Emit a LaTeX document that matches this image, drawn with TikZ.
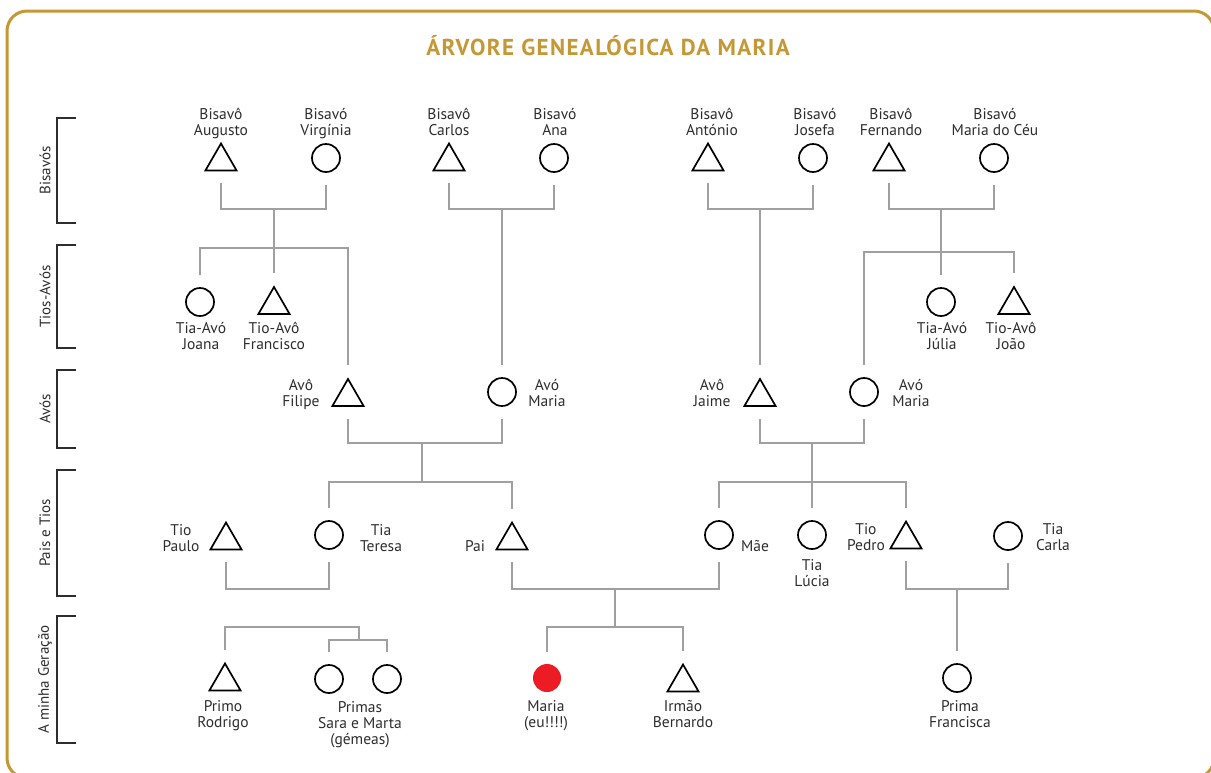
\documentclass[tikz,border=0pt]{standalone}
\usepackage{fontspec}
\setmainfont{PT Sans}
\usetikzlibrary{shapes.geometric}
\definecolor{gold}{RGB}{196,152,52}
\definecolor{linegray}{RGB}{160,160,160}
\definecolor{txtgray}{RGB}{45,45,45}
\definecolor{mered}{RGB}{237,28,36}
\begin{document}
\begin{tikzpicture}[x=1pt,y=-1pt,
		man/.style={draw, regular polygon, regular polygon sides=3, minimum size=36pt, inner sep=0pt, line width=1.7pt},
		woman/.style={draw, circle, minimum size=28pt, inner sep=0pt, line width=1.7pt},
		me/.style={circle, fill=mered, minimum size=28pt, inner sep=0pt},
		lbl/.style={align=center, anchor=base, inner sep=0pt, text=txtgray, font=\fontsize{15.5}{16}\selectfont},
		gen/.style={rotate=90, inner sep=0pt, text=txtgray, font=\fontsize{15}{16}\selectfont},
		famline/.style={draw=linegray, line width=2.2pt},
		ends/.style={shorten <=12pt, shorten >=12pt},
		tail/.style={shorten >=12pt},
		brk/.style={draw=txtgray, line width=1.3pt}]
			\useasboundingbox (0,0) rectangle (1211,772);
			\draw[gold, line width=3pt, rounded corners=20pt] (7,11) rectangle (1214,778);
			\node	(title) at (608,55) [anchor=base, text=gold, font=\fontsize{23}{26}\selectfont\bfseries\addfontfeature{LetterSpace=6}] {ÁRVORE GENEALÓGICA DA MARIA};
			% generations
			\draw[brk] (76,118) -- (57,118) -- (57,223) -- (76,223);
			\draw[brk] (76,245) -- (57,245) -- (57,348) -- (76,348);
			\draw[brk] (76,370) -- (57,370) -- (57,448) -- (76,448);
			\draw[brk] (76,470) -- (57,470) -- (57,596) -- (76,596);
			\draw[brk] (76,616) -- (57,616) -- (57,743) -- (76,743);
			\node	(genBis) at (45,170.5) [gen] {Bisavós};
			\node	(genTios) at (45,296.5) [gen] {Tios-Avós};
			\node	(genAvos) at (45,409) [gen] {Avós};
			\node	(genPais) at (45,533) [gen] {Pais e Tios};
			\node	(genMinha) at (45,679.5) [gen] {A minha Geração};
			% bisavos
			\node	(augusto) at (221,161.5) [man] {};
			\node	(virginia) at (326,158) [woman] {};
			\node	(carlos) at (449,161.5) [man] {};
			\node	(ana) at (554,158) [woman] {};
			\node	(antonio) at (708,161.5) [man] {};
			\node	(josefa) at (813,158) [woman] {};
			\node	(fernando) at (889,161.5) [man] {};
			\node	(mceu) at (994,158) [woman] {};
			\node	(augustoL) at (221,135) [lbl] {Bisavô\\Augusto};
			\node	(virginiaL) at (326,135) [lbl] {Bisavó\\Virgínia};
			\node	(carlosL) at (449,135) [lbl] {Bisavô\\Carlos};
			\node	(anaL) at (555,135) [lbl] {Bisavó\\Ana};
			\node	(antonioL) at (712,135) [lbl] {Bisavô\\António};
			\node	(josefaL) at (815,135) [lbl] {Bisavó\\Josefa};
			\node	(fernandoL) at (891,135) [lbl] {Bisavô\\Fernando};
			\node	(mceuL) at (995,135) [lbl] {Bisavó\\Maria do Céu};
			% tios-avos
			\node	(joana) at (200,302) [woman] {};
			\node	(francisco) at (274,305) [man] {};
			\node	(julia) at (941,302) [woman] {};
			\node	(joao) at (1014,305) [man] {};
			\node	(joanaL) at (201,349) [lbl] {Tia-Avó\\Joana};
			\node	(franciscoL) at (274,349) [lbl] {Tio-Avô\\Francisco};
			\node	(juliaL) at (942,349) [lbl] {Tia-Avó\\Júlia};
			\node	(joaoL) at (1011,349) [lbl] {Tio-Avô\\João};
			% avos
			\node	(filipe) at (348,397) [man] {};
			\node	(mariaP) at (502,392) [woman] {};
			\node	(jaime) at (760,397) [man] {};
			\node	(mariaM) at (864,392) [woman] {};
			\node	(filipeL) at (301,406) [lbl] {Avô\\Filipe};
			\node	(mariaPL) at (547,406) [lbl] {Avó\\Maria};
			\node	(jaimeL) at (712,406) [lbl] {Avô\\Jaime};
			\node	(mariaML) at (911,406) [lbl] {Avó\\Maria};
			% pais e tios
			\node	(paulo) at (226,540.5) [man] {};
			\node	(teresa) at (329,535) [woman] {};
			\node	(pai) at (512,540.5) [man] {};
			\node	(mae) at (719,535) [woman] {};
			\node	(lucia) at (812,535) [woman] {};
			\node	(pedro) at (906,539.5) [man] {};
			\node	(carla) at (1008,536) [woman] {};
			\node	(pauloL) at (181,551) [lbl] {Tio\\Paulo};
			\node	(teresaL) at (381,551) [lbl] {Tia\\Teresa};
			\node	(paiL) at (475,551) [lbl] {Pai};
			\node	(maeL) at (755,551) [lbl] {Mãe};
			\node	(luciaL) at (812,586) [lbl] {Tia\\Lúcia};
			\node	(pedroL) at (866,550) [lbl] {Tio\\Pedro};
			\node	(carlaL) at (1053,550) [lbl] {Tia\\Carla};
			% a minha geracao
			\node	(rodrigo) at (225,681.5) [man] {};
			\node	(sara) at (329,679) [woman] {};
			\node	(marta) at (387,679) [woman] {};
			\node	(maria) at (547,678) [me] {};
			\node	(bernardo) at (683,682.5) [man] {};
			\node	(francisca) at (957,678) [woman] {};
			\node	(rodrigoL) at (223,727) [lbl] {Primo\\Rodrigo};
			\node	(gemeasL) at (360,744) [lbl] {Primas\\Sara e Marta\\(gémeas)};
			\node	(mariaL) at (546,727) [lbl] {Maria\\(eu!!!!)};
			\node	(bernardoL) at (683,727) [lbl] {Irmão\\Bernardo};
			\node	(franciscaL) at (960,727) [lbl] {Prima\\Francisca};
			% junctions
			\coordinate (jAV) at (274,209);
			\coordinate (jAVk) at (274,248);
			\coordinate (jCA) at (502,209);
			\coordinate (jAJ) at (760,209);
			\coordinate (jFM) at (941,209);
			\coordinate (jFMk) at (941,252);
			\coordinate (jPat) at (422,443);
			\coordinate (jPatk) at (422,482);
			\coordinate (jMat) at (812,443);
			\coordinate (jMatk) at (812,482);
			\coordinate (jPT) at (277,589);
			\coordinate (jPTk) at (359,627);
			\coordinate (jTw) at (359,640);
			\coordinate (jPM) at (615,589);
			\coordinate (jPMk) at (615,627);
			\coordinate (jPC) at (957,589);
			% connectors
			\draw[famline, ends] (augusto.south) |- (jAV) -| (virginia.south);
			\draw[famline] (jAV) -- (jAVk);
			\draw[famline, ends] (joana.north) |- (jAVk) -| (filipe.north);
			\draw[famline, tail] (jAVk) -- (francisco.north);
			\draw[famline, ends] (carlos.south) |- (jCA) -| (ana.south);
			\draw[famline, tail] (jCA) -- (mariaP.north);
			\draw[famline, ends] (antonio.south) |- (jAJ) -| (josefa.south);
			\draw[famline, tail] (jAJ) -- (jaime.north);
			\draw[famline, ends] (fernando.south) |- (jFM) -| (mceu.south);
			\draw[famline] (jFM) -- (jFMk);
			\draw[famline, ends] (mariaM.north) |- (jFMk) -| (joao.north);
			\draw[famline, tail] (jFMk) -- (julia.north);
			\draw[famline, ends] (filipe.south) |- (jPat) -| (mariaP.south);
			\draw[famline] (jPat) -- (jPatk);
			\draw[famline, ends] (teresa.north) |- (jPatk) -| (pai.north);
			\draw[famline, ends] (jaime.south) |- (jMat) -| (mariaM.south);
			\draw[famline] (jMat) -- (jMatk);
			\draw[famline, ends] (mae.north) |- (jMatk) -| (pedro.north);
			\draw[famline, tail] (jMatk) -- (lucia.north);
			\draw[famline, ends] (paulo.south) |- (jPT) -| (teresa.south);
			\draw[famline, shorten <=12pt] (rodrigo.north) |- (jPTk) -- (jTw);
			\draw[famline, ends] (sara.north) |- (jTw) -| (marta.north);
			\draw[famline, ends] (pai.south) |- (jPM) -| (mae.south);
			\draw[famline] (jPM) -- (jPMk);
			\draw[famline, ends] (maria.north) |- (jPMk) -| (bernardo.north);
			\draw[famline, ends] (pedro.south) |- (jPC) -| (carla.south);
			\draw[famline, tail] (jPC) -- (francisca.north);
		\end{tikzpicture}
\end{document}
